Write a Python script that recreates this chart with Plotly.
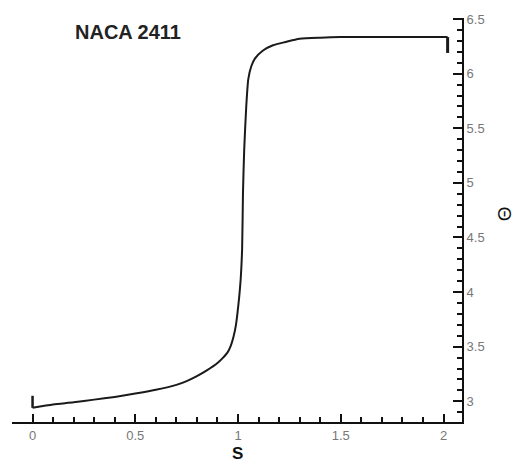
import plotly.graph_objects as go

# Arc-length coordinate S along the airfoil surface and the flow angle Theta
s_vals = [0.0, 0.1, 0.2, 0.3, 0.4, 0.5, 0.6, 0.7, 0.75, 0.8, 0.85, 0.9, 0.925,
          0.95, 0.965, 0.978, 0.99, 0.998, 1.006, 1.013, 1.020, 1.024, 1.030,
          1.040, 1.050, 1.065, 1.083, 1.12, 1.17, 1.23, 1.30, 1.40, 1.50, 1.75, 2.02]
theta_vals = [2.94, 2.97, 2.99, 3.015, 3.04, 3.07, 3.105, 3.15, 3.185, 3.23, 3.285, 3.35, 3.395,
              3.45, 3.51, 3.59, 3.70, 3.82, 3.96, 4.12, 4.40, 4.90, 5.30,
              5.70, 5.95, 6.07, 6.14, 6.21, 6.26, 6.29, 6.32, 6.33, 6.335, 6.335, 6.335]

# End-point markers (leading / trailing end of the surface curve)
start_bar_s = [0.0, 0.0]
start_bar_theta = [2.94, 3.05]
end_bar_s = [2.02, 2.02]
end_bar_theta = [6.335, 6.19]

# Axis ranges and tick spacing
s_range = [-0.1, 2.09]
theta_range = [2.81, 6.51]
major_step = 0.5
minor_step = 0.1

font_family = "Arial, Liberation Sans, sans-serif"
line_color = "#1a1a1a"
axis_color = "#111111"
label_color = "#777777"

fig = go.Figure()
fig.add_trace(go.Scatter(x=s_vals, y=theta_vals, mode="lines",
                         line=dict(color=line_color, width=2, shape="spline", smoothing=0.6),
                         showlegend=False))
fig.add_trace(go.Scatter(x=start_bar_s, y=start_bar_theta, mode="lines",
                         line=dict(color=line_color, width=2.5), showlegend=False))
fig.add_trace(go.Scatter(x=end_bar_s, y=end_bar_theta, mode="lines",
                         line=dict(color=line_color, width=3), showlegend=False))

axis_common = dict(showgrid=False, zeroline=False, showline=True, linecolor=axis_color,
                   linewidth=2, ticks="inside", tickwidth=2, tickcolor=axis_color,
                   tickfont=dict(size=13, color=label_color))

fig.update_layout(
    width=517, height=462,
    margin=dict(l=12, r=55, t=14, b=40),
    paper_bgcolor="white", plot_bgcolor="white",
    font=dict(family=font_family, color=label_color, size=13),
    xaxis=dict(range=s_range, tick0=0, dtick=major_step, ticklen=8,
               minor=dict(ticks="inside", ticklen=5, tickwidth=1.5, tickcolor=axis_color,
                          dtick=minor_step, tick0=0, showgrid=False),
               **axis_common),
    yaxis=dict(range=theta_range, side="right", tick0=3, dtick=major_step, ticklen=9,
               minor=dict(ticks="inside", ticklen=5, tickwidth=1.5, tickcolor=axis_color,
                          dtick=minor_step, tick0=3, showgrid=False),
               **axis_common),
    annotations=[
        dict(text="<b>NACA 2411</b>", x=0.258, y=0.966, xref="paper", yref="paper",
             showarrow=False, font=dict(size=20, color="#222222", family=font_family),
             xanchor="center", yanchor="middle"),
        dict(text="<b>S</b>", x=0.5, y=-0.079, xref="paper", yref="paper",
             showarrow=False, font=dict(size=17, color="#111111", family=font_family),
             xanchor="center", yanchor="middle"),
        dict(text="Θ", x=1.0963, y=0.515, xref="paper", yref="paper",
             showarrow=False, textangle=-90,
             font=dict(size=19, color="#111111", family=font_family),
             xanchor="center", yanchor="middle"),
    ],
)

fig.write_html("out.html")
